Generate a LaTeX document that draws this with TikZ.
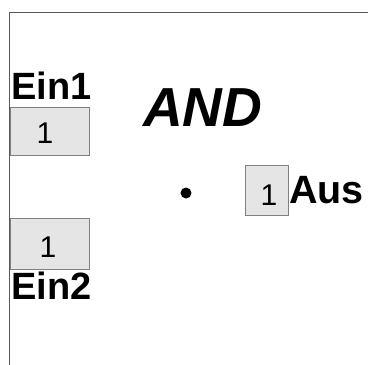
\documentclass[tikz,border=0pt]{standalone}
\usepackage{fontspec}
\setmainfont{Liberation Sans}
\begin{document}
\begin{tikzpicture}[x=1pt,y=-1pt,
  frame/.style={draw=black!65,line width=1pt},
  valbox/.style={draw=black!50,fill=black!10,line width=0.9pt,inner sep=0pt},
  lbl/.style={font=\fontsize{38}{42}\selectfont\bfseries,inner sep=0pt,anchor=base west},
  num/.style={font=\fontsize{30}{34}\selectfont,inner sep=0pt,anchor=base}]
\useasboundingbox (0,0) rectangle (368,365);
\fill[white] (0,0) rectangle (368,365);
\coordinate (tl) at (10,12);
\coordinate (tr) at (368,12);
\coordinate (bl) at (10,365);
\draw[frame] (tr) -- (tl) -- (bl);
% input 1
\node[valbox,minimum width=79pt,minimum height=48pt] (box1) at (49.5,131) {};
\node[num] (n1) at (45,143) {1};
\node[lbl] (ein1) at (11,99.5) {Ein1};
% input 2
\node[valbox,minimum width=79pt,minimum height=51pt] (box2) at (49.5,243.5) {};
\node[num] (n2) at (48,257) {1};
\node[lbl] (ein2) at (11,299) {Ein2};
% gate
\node[font=\fontsize{55}{58}\selectfont\bfseries\itshape,inner sep=0pt,anchor=base west] (and) at (143,126) {AND};
\fill (186,193) circle (5.5pt) coordinate (dot);
% output
\node[valbox,minimum width=43pt,minimum height=50pt] (box3) at (266.5,190) {};
\node[num] (n3) at (269,205) {1};
\node[lbl,font=\fontsize{39.5}{42}\selectfont\bfseries] (aus) at (289,203.5) {Aus};
\end{tikzpicture}
\end{document}
